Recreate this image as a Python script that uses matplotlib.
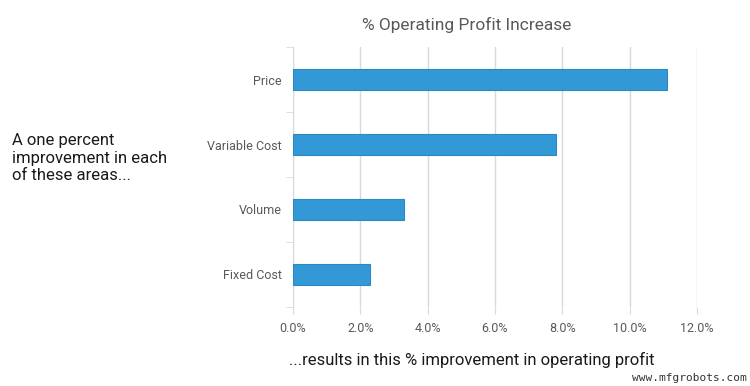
import numpy as np
import matplotlib.pyplot as plt
from matplotlib.ticker import FuncFormatter

plt.rcParams['font.family'] = ['Roboto', 'DejaVu Sans']

categories = ["Price", "Variable Cost", "Volume", "Fixed Cost"]
values = [11.1, 7.8, 3.3, 2.3]
xticks = [0, 2, 4, 6, 8, 10, 12]

fig = plt.figure(figsize=(7.5, 3.86), dpi=100)
ax = fig.add_axes([0.3907, 0.2047, 0.5386, 0.6735])

y = np.arange(len(categories))
ax.barh(y, values, height=0.33, color='#3399d6', edgecolor='#2a88c4', linewidth=0.8, zorder=3)
ax.set_ylim(len(categories) - 0.5, -0.5)
ax.set_xlim(0, 12)

ax.set_xticks(xticks)
ax.xaxis.set_major_formatter(FuncFormatter(lambda v, p: f"{v:.1f}%"))
ax.set_yticks(y)
ax.set_yticklabels(categories)
ax.set_yticks(np.arange(len(categories) + 1) - 0.5, minor=True)

ax.grid(axis='x', color='#d9d9d9', linewidth=1, zorder=0)
for s in ['top', 'right', 'bottom']:
    ax.spines[s].set_visible(False)
ax.spines['left'].set_color('#d9d9d9')
ax.tick_params(axis='x', length=5, color='#d9d9d9', labelsize=9, labelcolor='#595959', pad=6)
ax.tick_params(axis='y', which='major', length=0, labelsize=9, labelcolor='#595959', pad=8)
ax.tick_params(axis='y', which='minor', length=5, color='#d9d9d9')

fig.text(0.622, 0.935, "% Operating Profit Increase", ha='center', va='center',
         fontsize=12.5, color='#595959')
fig.text(0.016, 0.59, "A one percent\nimprovement in each\nof these areas...", ha='left', va='center',
         fontsize=12, color='#1a1a1a', linespacing=1.2)
fig.text(0.629, 0.067, "...results in this % improvement in operating profit", ha='center', va='center',
         fontsize=12, color='#1a1a1a')
fig.text(0.995, 0.008, "www.mfgrobots.com", ha='right', va='bottom',
         fontsize=8, color='#333333', family='DejaVu Sans Mono')

fig.savefig("out.png", dpi=100)
